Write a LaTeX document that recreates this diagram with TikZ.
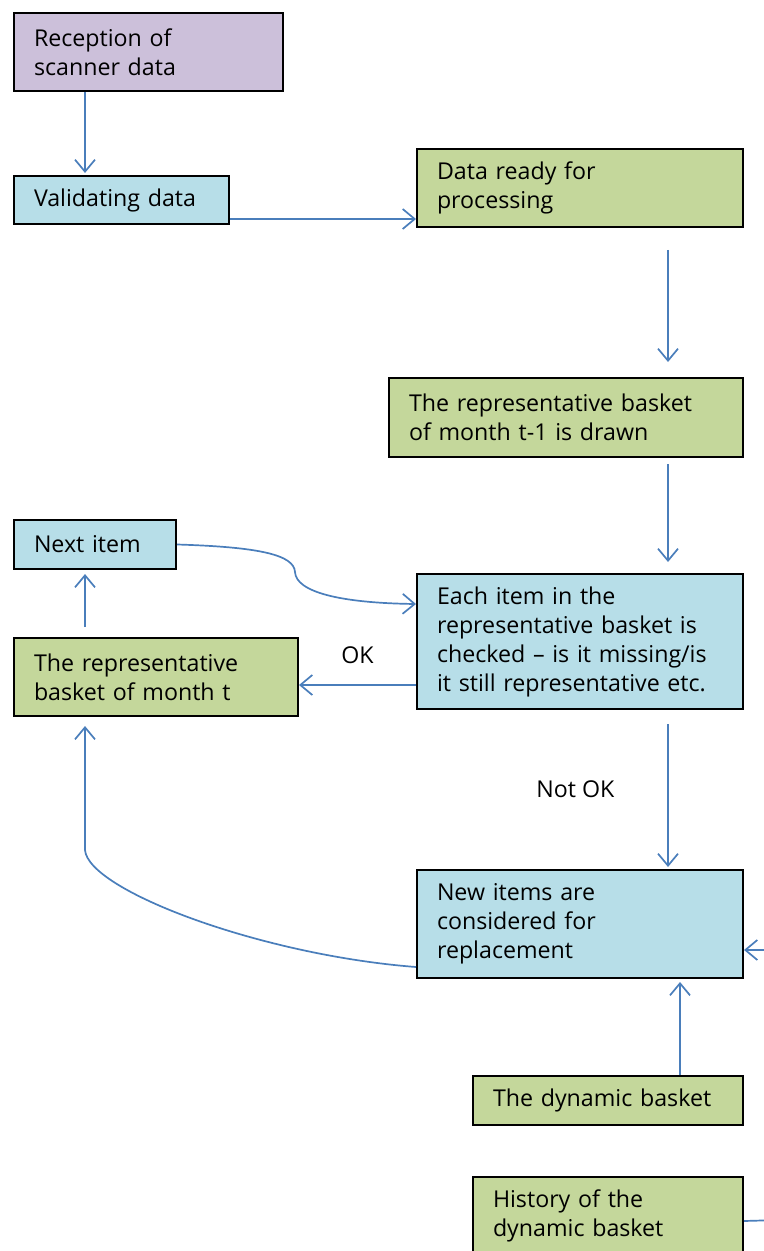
\documentclass[tikz,border=0pt]{standalone}
\usepackage{fontspec}
\setmainfont{Open Sans}
\usetikzlibrary{arrows.meta}
\definecolor{boxpurple}{HTML}{CCC0DA}
\definecolor{boxblue}{HTML}{B7DEE8}
\definecolor{boxgreen}{HTML}{C4D79B}
\definecolor{linkblue}{HTML}{4A7EBB}
\tikzset{
  box/.style={draw,line width=1pt,anchor=north west,align=left,
    inner xsep=10pt,inner ysep=0pt,font=\fontsize{11.6}{14.5}\selectfont},
  link/.style={draw=linkblue,line width=0.85pt},
  arrow/.style={link,-{Straight Barb[length=6pt,width=10pt]}},
  lbl/.style={font=\fontsize{11.6}{14.5}\selectfont},
}
\begin{document}
\begin{tikzpicture}[x=0.5pt,y=-0.5pt]
        \useasboundingbox (0,0) rectangle (764,1251);
        \clip (0,0) rectangle (764,1251);
        \draw (13,12) node[box,fill=boxpurple,text width=114.5pt,minimum height=39pt](rec){Reception of\\scanner data};
        \draw (13,175) node[box,fill=boxblue,text width=87.5pt,minimum height=24pt](val){Validating data};
        \draw (416,148) node[box,fill=boxgreen,text width=143pt,minimum height=39pt](ready){Data ready for\\processing};
        \draw (388,377) node[box,fill=boxgreen,text width=157pt,minimum height=39.5pt](old){The representative basket\\of month t-1 is drawn};
        \draw (13,519) node[box,fill=boxblue,text width=61pt,minimum height=24.5pt](next){Next item};
        \draw (13,637) node[box,fill=boxgreen,text width=122pt,minimum height=39pt](cur){The representative\\basket of month t};
        \draw (416,573) node[box,fill=boxblue,text width=143pt,minimum height=67.5pt](each){Each item in the\\representative basket is\\checked – is it missing/is\\it still representative etc.};
        \draw (416,869) node[box,fill=boxblue,text width=143pt,minimum height=54pt](new){New items are\\considered for\\replacement};
        \draw (472,1075) node[box,fill=boxgreen,text width=115pt,minimum height=24.5pt](dyn){The dynamic basket};
        \draw (472,1176) node[box,fill=boxgreen,text width=115pt,minimum height=39pt](hist){History of the\\dynamic basket};
        \coordinate (bend) at (85,850);
        \coordinate (rin) at (780,950);
        \coordinate (rout) at (780,1220);
        % straight connectors
        \draw[arrow,shorten >=1pt] ([xshift=36pt]rec.south west) -- ([xshift=36pt]val.north west);
        \draw[arrow] ([yshift=3pt]val.south east) -- ([yshift=3pt]val.south east -| ready.west);
        \draw[arrow,shorten <=11pt,shorten >=7.5pt] ([xshift=44pt]ready.south) -- ([xshift=44pt]ready.south |- old.north);
        \draw[arrow,shorten <=3pt,shorten >=5.5pt] ([xshift=51pt]old.south) -- ([xshift=44pt]each.north);
        \draw[arrow,shorten <=7pt,shorten >=1pt] ([xshift=44pt]each.south) -- node[lbl,left=23pt]{Not OK} ([xshift=44pt]new.north);
        \draw[arrow,shorten >=1.5pt] ([xshift=36pt]dyn.north) -- ([xshift=36pt]dyn.north |- new.south);
        \draw[arrow] ([yshift=12.5pt]each.south west) -- node[lbl,above=7pt]{OK} ([yshift=12.5pt]each.south west -| cur.east);
        \draw[arrow,shorten <=5pt,shorten >=2pt] ([xshift=36pt]cur.north west) -- ([xshift=36pt]next.south west);
        \draw[arrow] (rin) -- (rin -| new.east);
        \draw[link] ([yshift=-2.5pt]hist.east) -- (rout);
        % curved connectors
        \draw[arrow] (next.east) .. controls (260,547) and (294,555) .. (295,572)
          .. controls (296,592) and (340,603) .. ([yshift=-15.5pt]each.north west);
        \draw[arrow,shorten >=4.5pt] ([yshift=6pt]new.south west) .. controls (260,955) and (88,890) .. (bend) -- (bend |- cur.south);
      \end{tikzpicture}
\end{document}
